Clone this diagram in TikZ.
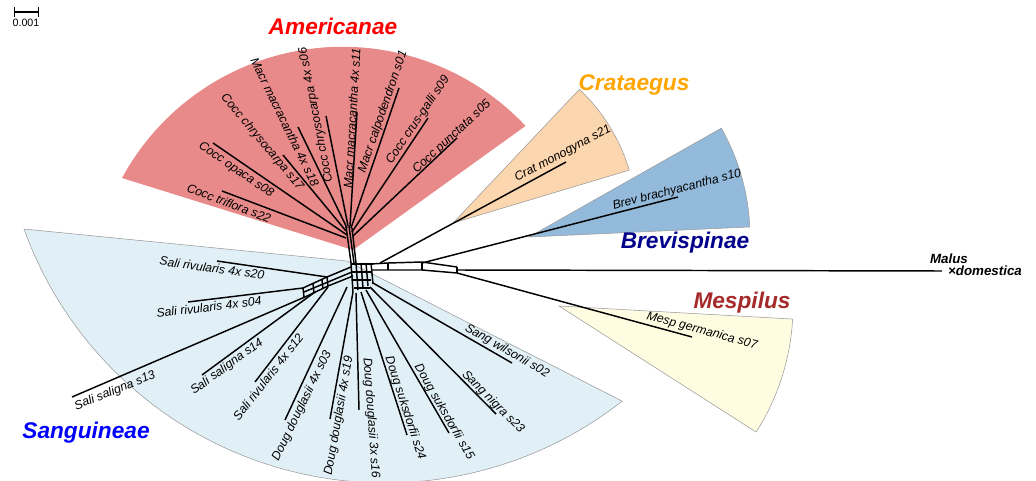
\documentclass[tikz,border=0pt]{standalone}
\usepackage{fontspec}
\setmainfont{Liberation Sans}

\definecolor{amerfill}{RGB}{233,138,138}
\definecolor{cratfill}{RGB}{252,214,174}
\definecolor{brevfill}{RGB}{147,186,219}
\definecolor{mespfill}{RGB}{255,253,225}
\definecolor{sangfill}{RGB}{225,240,246}
\definecolor{amercol}{RGB}{255,0,0}
\definecolor{cratcol}{RGB}{255,165,0}
\definecolor{brevcol}{RGB}{0,0,139}
\definecolor{mespcol}{RGB}{165,42,42}
\definecolor{sangcol}{RGB}{0,0,255}

\tikzset{
  edge/.style={line width=1.1pt},
  leaf/.style={font=\itshape\fontsize{9.2}{10}\selectfont, inner sep=0pt},
  clade/.style={font=\bfseries\itshape\fontsize{17}{18}\selectfont, inner sep=0pt, anchor=base},
  sector/.style={draw=gray!80, line width=0.4pt},
}

\begin{document}
\begin{tikzpicture}[x=0.75pt,y=-0.75pt]
    \useasboundingbox (0,0) rectangle (1036,481);

    % sectors behind the network
    \fill[amerfill] (353,250) -- (122,178) arc[start angle=-151.5, end angle=-43.2, radius=251] -- cycle;
    \filldraw[sector, fill=cratfill] (453,223) -- ++(-46.6:184) arc[start angle=-46.6, end angle=-16.7, radius=184] -- cycle;
    \filldraw[sector, fill=brevfill] (529,237) -- ++(-29.5:221) arc[start angle=-29.5, end angle=-2.6, radius=221] -- cycle;
    \filldraw[sector, fill=mespfill] (559,306) -- ++(3.2:234) arc[start angle=3.2, end angle=32.6, radius=234] -- cycle;
    \filldraw[sector, fill=sangfill] (347,261) -- (24,229) arc[start angle=160.2, end angle=51.9, radius=384] -- cycle;

    % central network
    \draw[edge] (346,226) -- (351,263);
    \draw[edge] (349,226) -- (354,263);
    \draw[edge] (352,228) -- (356,263);
    \foreach \i in {0,...,4}
        \draw[edge] ({351+5*\i},263) -- ({353+5*\i},{292-2*\i});
    \foreach \j in {0,...,3}
        \draw[edge] ({351+\j},{264+8*\j}) -- ({373-\j},{264+8*\j});
    \draw[edge] (371,264) -- (388,263) -- (422,262) -- (457,267);
    \draw[edge] (371,270) -- (388,270) -- (422,270) -- (457,273);
    \foreach \x/\a/\b in {388/263/270, 422/262/270, 457/267/273}
        \draw[edge] (\x,\a) -- (\x,\b);
    \draw[edge] (351,267) -- (327,277) -- (303,288);
    \draw[edge] (352,272) -- (328,282) -- (304,292);
    \draw[edge] (353,276) -- (328,286) -- (305,297);
    \foreach \x/\a/\b in {303/288/297, 313/284/293, 322/280/289, 327/277/286}
        \draw[edge] (\x,\a) -- ({\x+1},\b);

    % leaves: id / tip / hub / label / angle / text
    \foreach \id/\tx/\ty/\hx/\hy/\lx/\ly/\ang/\txt in {
        s22/222/191/346/238/229/203/-21/{Cocc triflora s22},
        s08/213/143/347/235/236/170/-34.5/{Cocc opaca s08},
        s17/283/155/346/231/262/142/-50/{Cocc chrysocarpa s17},
        s18/298/127/347/228/285/122/-64/{Macr macracantha 4x s18},
        s06/326/116/348/226/316/115/101/{Cocc chrysocarpa 4x s06},
        s11/357/112/350/226/352/118/86.5/{Macr macracantha 4x s11},
        s01/399/88/351/228/383/112/71/{Macr calpodendron s01},
        s09/428/118/352/232/418/120/56/{Cocc crus-galli s09},
        s05/457/138/353/236/452/137/43/{Cocc punctata s05},
        s21/566/162/380/263/563/154/28/{Crat monogyna s21},
        s10/678/197/422/263/677/190/14.5/{Brev brachyacantha s10},
        s07/692/337/457/273/702/331/-15/{Mesp germanica s07},
        s20/217/261/327/277/212/268/-8/{Sali rivularis 4x s20},
        s04/188/302/303/288/209/307/7/{Sali rivularis 4x s04},
        s13/72/397/305/297/115/391/22/{Sali saligna s13},
        s14/202/375/315/292/227/367/36/{Sali saligna s14},
        s12/255/382/328/287/268/377/52/{Sali rivularis 4x s12},
        s03/285/420/347/287/302/406/64/{Doug douglasii 4x s03},
        s19/330/419/353/292/339/416/80/{Doug douglasii 4x s19},
        s16/359/410/356/293/371/418/-86/{Doug douglasii 3x s16},
        s24/407/435/361/292/405/408/-72/{Doug suksdorfii s24},
        s15/449/433/366/290/444/412/-60/{Doug suksdorfii s15},
        s23/496/414/370/287/493/402/-45/{Sang nigra s23},
        s02/512/363/373/283/507/351/-30/{Sang wilsonii s02}} {
        \coordinate (h\id) at (\hx,\hy);
        \coordinate (t\id) at (\tx,\ty);
        \draw[edge] (h\id) -- (t\id);
        \node[leaf, rotate=\ang] (l\id) at (\lx,\ly) {\txt};
    }

    % outgroup
    \coordinate (rootend) at (457,270);
    \coordinate (tmal) at (942,271);
    \draw[edge] (rootend) -- (tmal);
    \node[font=\bfseries\itshape\fontsize{10}{11}\selectfont, inner sep=0pt, anchor=base] (malus) at (949,263) {Malus};
    \node[font=\bfseries\itshape\fontsize{10}{11}\selectfont, inner sep=0pt, anchor=base] (domestica) at (985,276) {×domestica};

    % clade names
    \node[clade, text=amercol] (americanae) at (333,35) {Americanae};
    \node[clade, text=cratcol] (crataegus) at (634,91) {Crataegus};
    \node[clade, text=brevcol] (brevispinae) at (685,248) {Brevispinae};
    \node[clade, text=mespcol] (mespilus) at (742,308) {Mespilus};
    \node[clade, text=sangcol] (sanguineae) at (86,438) {Sanguineae};

    % scale bar
    \coordinate (sb0) at (14,12);
    \coordinate (sb1) at (39,12);
    \draw[|-|, line width=0.8pt] (sb0) -- (sb1);
    \node[font=\fontsize{8}{9}\selectfont, inner sep=0pt, anchor=base] (scale) at (26,27) {0.001};
\end{tikzpicture}
\end{document}
